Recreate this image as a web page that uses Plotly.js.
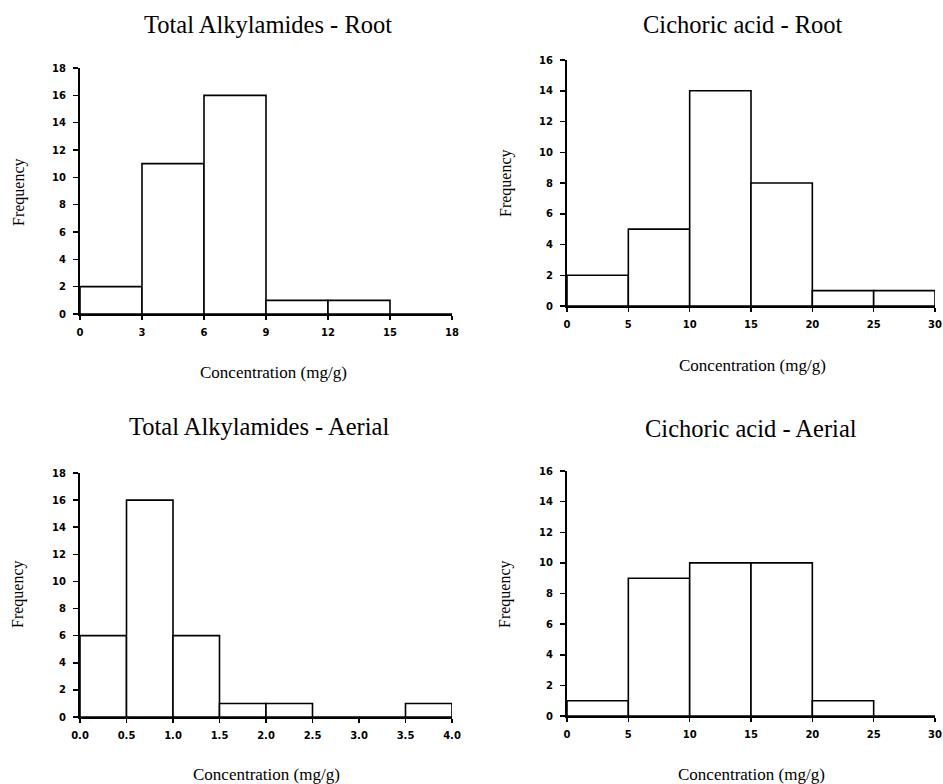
<!DOCTYPE html>
<html>
<head>
<meta charset="utf-8">
<script src="https://cdn.plot.ly/plotly-3.0.1.min.js"></script>
<style>html,body{margin:0;padding:0;background:#fff;}#chart{width:943px;height:784px;}</style>
</head>
<body>
<div id="chart"></div>
<script>
// ---- data ----
const titles = ["Total Alkylamides - Root", "Cichoric acid - Root", "Total Alkylamides - Aerial", "Cichoric acid - Aerial"];
const xTitle = "Concentration (mg/g)";
const yTitle = "Frequency";

const rootAlkEdges = [0, 3, 6, 9, 12, 15, 18];
const rootAlkCounts = [2, 11, 16, 1, 1, 0];

const rootCicEdges = [0, 5, 10, 15, 20, 25, 30];
const rootCicCounts = [2, 5, 14, 8, 1, 1];

const aerAlkEdges = [0, 0.5, 1.0, 1.5, 2.0, 2.5, 3.0, 3.5, 4.0];
const aerAlkCounts = [6, 16, 6, 1, 1, 0, 0, 1];

const aerCicEdges = [0, 5, 10, 15, 20, 25, 30];
const aerCicCounts = [1, 9, 10, 10, 1, 0];

// ---- layout helpers ----
const W = 943, H = 784;
const px = x => x / W;
const py = y => 1 - y / H;

function histTrace(edges, counts, idx) {
  const centers = [], widths = [];
  for (let i = 0; i < counts.length; i++) {
    centers.push((edges[i] + edges[i + 1]) / 2);
    widths.push(edges[i + 1] - edges[i]);
  }
  const s = idx === 1 ? "" : String(idx);
  return {
    type: "bar", x: centers, y: counts, width: widths,
    marker: {color: "#ffffff", line: {color: "#000000", width: 1.6}},
    xaxis: "x" + s, yaxis: "y" + s, showlegend: false, hoverinfo: "x+y"
  };
}

const tickFont = {family: "DejaVu Sans, Arial, sans-serif", size: 10, weight: "bold", color: "#000"};

function xax(domain, range, dtick, anchor, fmt) {
  return {domain: domain, range: range, dtick: dtick, tick0: 0, anchor: anchor,
    showgrid: false, zeroline: false, showline: true, linecolor: "#000", linewidth: 2,
    ticks: "outside", ticklen: 4, tickwidth: 1.5, tickcolor: "#000",
    tickfont: tickFont, tickformat: fmt || "", fixedrange: true, ticklabelstandoff: 4};
}
function yax(domain, range, anchor) {
  return {domain: domain, range: range, dtick: 2, tick0: 0, anchor: anchor,
    showgrid: false, zeroline: false, showline: true, linecolor: "#000", linewidth: 2,
    ticks: "outside", ticklen: 5, tickwidth: 1.5, tickcolor: "#000",
    tickfont: tickFont, fixedrange: true, ticklabelstandoff: 5};
}

const data = [
  histTrace(rootAlkEdges, rootAlkCounts, 1),
  histTrace(rootCicEdges, rootCicCounts, 2),
  histTrace(aerAlkEdges, aerAlkCounts, 3),
  histTrace(aerCicEdges, aerCicCounts, 4)
];

const serif = "Liberation Serif, Times New Roman, serif";
const titleFont = {family: serif, size: 24.5, color: "#000"};
const xTitleFont = {family: serif, size: 17, color: "#000"};
const yTitleFont = {family: serif, size: 16, color: "#000"};

function ann(text, x, y, font, angle) {
  return {text: text, x: px(x), y: py(y), xref: "paper", yref: "paper",
    xanchor: "center", yanchor: "middle", showarrow: false, font: font, textangle: angle || 0};
}

const layout = {
  width: W, height: H,
  margin: {l: 0, r: 0, t: 0, b: 0},
  paper_bgcolor: "#fff", plot_bgcolor: "#fff",
  bargap: 0,
  xaxis: xax([px(80), px(452)], [0, 18], 3, "y"),
  yaxis: yax([py(314), py(68)], [0, 18], "x"),
  xaxis2: xax([px(567), px(935)], [0, 30], 5, "y2"),
  yaxis2: yax([py(306), py(60)], [0, 16], "x2"),
  xaxis3: xax([px(80), px(452)], [0, 4], 0.5, "y3", ".1f"),
  yaxis3: yax([py(717), py(473)], [0, 18], "x3"),
  xaxis4: xax([px(567), px(935)], [0, 30], 5, "y4"),
  yaxis4: yax([py(716), py(471)], [0, 16], "x4"),
  annotations: [
    ann(titles[0], 268, 24, titleFont),
    ann(titles[1], 743, 24, titleFont),
    ann(titles[2], 259, 427, titleFont),
    ann(titles[3], 751, 428, titleFont),
    ann(xTitle, 273, 373, xTitleFont),
    ann(xTitle, 752, 365, xTitleFont),
    ann(xTitle, 266, 774, xTitleFont),
    ann(xTitle, 751, 774, xTitleFont),
    ann(yTitle, 19, 192, yTitleFont, -90),
    ann(yTitle, 506, 183, yTitleFont, -90),
    ann(yTitle, 18, 594, yTitleFont, -90),
    ann(yTitle, 505, 594, yTitleFont, -90)
  ]
};

Plotly.newPlot("chart", data, layout, {displayModeBar: false, staticPlot: true});
</script>
</body>
</html>
